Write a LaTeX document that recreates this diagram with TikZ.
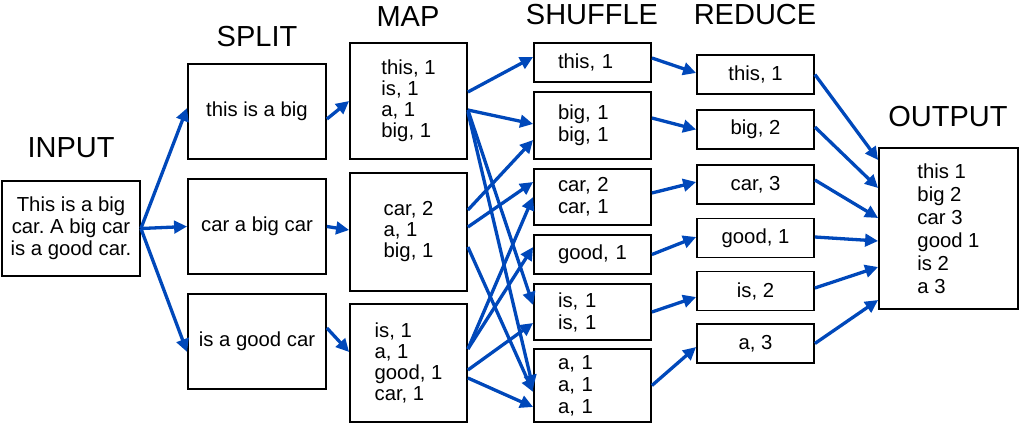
\documentclass[tikz,border=0pt]{standalone}
\usepackage{fontspec}
\setmainfont{Liberation Sans}
\usetikzlibrary{arrows.meta}
\definecolor{flowblue}{RGB}{0,72,186}
\frenchspacing

\begin{document}
\begin{tikzpicture}[
  x=1pt,y=-1pt,
  box/.style={draw,line width=1.8pt,align=center,inner sep=0pt,font=\fontsize{20.3}{22}\selectfont},
  splitbox/.style={box,minimum width=138pt,minimum height=95pt},
  mapbox/.style={box,align=left,minimum width=117pt,font=\fontsize{20.3}{21}\selectfont},
  shufbox/.style={box,align=left,text width=69pt,inner xsep=24pt},
  redbox/.style={box,minimum width=117pt,minimum height=39pt},
  ttl/.style={inner sep=0pt,font=\fontsize{29}{30}\selectfont},
  arr/.style={-{Triangle[length=13pt,width=12.5pt]},line width=3.3pt,flowblue}
]
\useasboundingbox (0,0) rectangle (1019,423);

% columns
\node[splitbox] (in) at (71,228.5) {This is a big\\car. A big car\\is a good car.};
\node[splitbox] (s1) at (257,111.5) {this is a big};
\node[splitbox] (s2) at (257,226.5) {car a big car};
\node[splitbox] (s3) at (257,341.5) {is a good car};

\node[mapbox,minimum height=116pt] (m1) at (408.5,101) {this, 1\\is, 1\\a, 1\\big, 1};
\node[mapbox,minimum height=118pt] (m2) at (408.5,232) {car, 2\\a, 1\\big, 1};
\node[mapbox,minimum height=118pt] (m3) at (408.5,363) {is, 1\\a, 1\\good, 1\\car, 1};

\node[shufbox,minimum height=39pt] (h1) at (592.5,62.5) {this, 1};
\node[shufbox,minimum height=67pt] (h2) at (592.5,125.5) {big, 1\\big, 1};
\node[shufbox,minimum height=56pt] (h3) at (592.5,197) {car, 2\\car, 1};
\node[shufbox,minimum height=39pt] (h4) at (592.5,254.5) {good, 1};
\node[shufbox,minimum height=56pt] (h5) at (592.5,312) {is, 1\\is, 1};
\node[shufbox,minimum height=73pt] (h6) at (592.5,385.5) {a, 1\\a, 1\\a, 1};

\node[redbox] (r1) at (755.5,74.5) {this, 1};
\node[redbox] (r2) at (755.5,129.5) {big, 2};
\node[redbox] (r3) at (755.5,184.5) {car, 3};
\node[redbox] (r4) at (755.5,238) {good, 1};
\node[redbox] (r5) at (755.5,291) {is, 2};
\node[redbox] (r6) at (755.5,343.5) {a, 3};

\node[box,align=left,minimum width=139pt,minimum height=161pt,font=\fontsize{20.3}{23}\selectfont]
  (out) at (948.5,228.5) {this 1\\big 2\\car 3\\good 1\\is 2\\a 3};

% titles
\node[ttl] (tin)  at (71,148)  {INPUT};
\node[ttl] (tsp)  at (257,37)  {SPLIT};
\node[ttl] (tmap) at (408,17)  {MAP};
\node[ttl] (tsh)  at (592,15)  {SHUFFLE};
\node[ttl] (tred) at (755,15)  {REDUCE};
\node[ttl] (tout) at (948,117) {OUTPUT};

% input -> split -> map
\draw[arr] (in.east) -- ([yshift=3.5pt]s1.west);
\draw[arr] (in.east) -- (s2.west);
\draw[arr] (in.east) -- ([yshift=-10.5pt]s3.west);
\draw[arr] ([yshift=-7.5pt]s1.east) -- (m1.west);
\draw[arr] (s2.east) -- ([yshift=2pt]m2.west);
\draw[arr] ([yshift=13.5pt]s3.east) -- ([yshift=11pt]m3.west);

% map -> shuffle
\draw[arr] ([yshift=9pt]m1.east) -- ([yshift=5.5pt]h1.west);
\draw[arr] ([yshift=-9pt]m1.east) -- ([yshift=1.5pt]h2.west);
\draw[arr] ([yshift=-9pt]m1.east) -- ([yshift=7pt]h5.west);
\draw[arr] ([yshift=-11pt]m1.east) -- ([yshift=-2.5pt]h6.west);
\draw[arr] ([yshift=22pt]m2.east) -- ([yshift=-14.5pt]h2.west);
\draw[arr] ([yshift=5pt]m2.east) -- ([yshift=15pt]h3.west);
\draw[arr] ([yshift=-15pt]m2.east) -- ([yshift=-6.5pt]h6.west);
\draw[arr] ([yshift=14pt]m3.east) -- (h3.west);
\draw[arr] ([yshift=14pt]m3.east) -- ([yshift=7.5pt]h4.west);
\draw[arr] ([yshift=-7pt]m3.east) -- ([yshift=-11pt]h5.west);
\draw[arr] ([yshift=-15pt]m3.east) -- ([yshift=-21.5pt]h6.west);

% shuffle -> reduce
\draw[arr] ([yshift=4.5pt]h1.east) -- ([yshift=1.5pt]r1.west);
\draw[arr] ([yshift=7.5pt]h2.east) -- (r2.west);
\draw[arr] ([yshift=4pt]h3.east) -- ([yshift=2.5pt]r3.west);
\draw[arr] (h4.east) -- ([yshift=1pt]r4.west);
\draw[arr] (h5.east) -- ([yshift=-6pt]r5.west);
\draw[arr] (h6.east) -- ([yshift=-3.5pt]r6.west);

% reduce -> output
\draw[arr] (r1.east) -- ([yshift=68.5pt]out.west);
\draw[arr] ([yshift=2.5pt]r2.east) -- ([yshift=40.5pt]out.west);
\draw[arr] ([yshift=4.5pt]r3.east) -- ([yshift=10.5pt]out.west);
\draw[arr] ([yshift=1pt]r4.east) -- ([yshift=-12.5pt]out.west);
\draw[arr] ([yshift=3pt]r5.east) -- ([yshift=-38.5pt]out.west);
\draw[arr] (r6.east) -- ([yshift=-71.5pt]out.west);
\end{tikzpicture}
\end{document}
